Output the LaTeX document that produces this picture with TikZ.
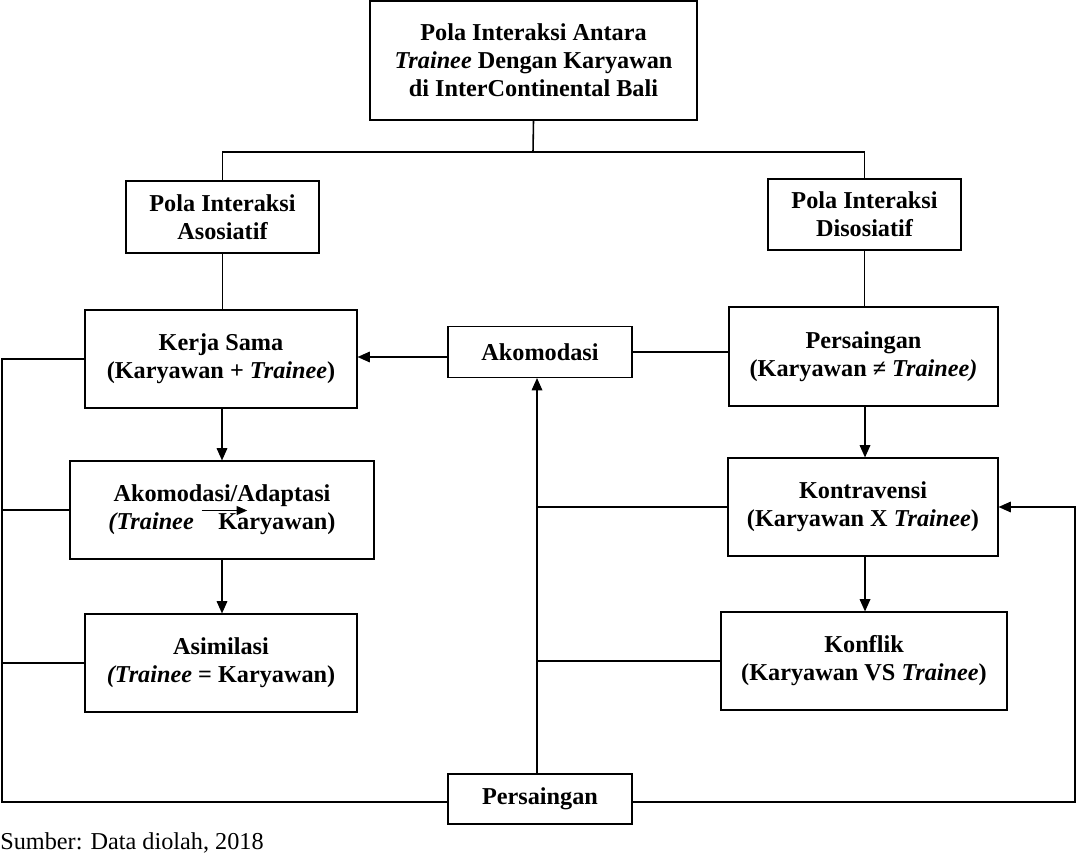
\documentclass[tikz,border=0pt]{standalone}
\usepackage{fontspec}
\setmainfont{Liberation Serif}
\usetikzlibrary{arrows.meta}

\begin{document}
\begin{tikzpicture}[x=0.02cm, y=-0.02cm,
    every node/.style={font=\fontsize{13.8}{16}\selectfont\bfseries, align=center, inner sep=0pt},
    box/.style={draw, line width=0.6pt},
    link/.style={line width=0.9pt},
    arr/.style={link, -{Triangle[length=7pt,width=6pt]}}]
    \useasboundingbox (0,0) rectangle (1077,857);

    % boxes
    \node[box, minimum width=327*0.02cm, minimum height=119*0.02cm] (pola) at (533.5,60.5)
        {Pola Interaksi Antara\\\textit{Trainee} Dengan Karyawan\\di InterContinental Bali};
    \node[box, minimum width=193*0.02cm, minimum height=72*0.02cm] (asos) at (222.5,217)
        {Pola Interaksi\\Asosiatif};
    \node[box, minimum width=193*0.02cm, minimum height=71*0.02cm] (disos) at (864.5,214.5)
        {Pola Interaksi\\Disosiatif};

    \node[box, minimum width=272*0.02cm, minimum height=98*0.02cm] (kerja) at (221,359)
        {Kerja Sama\\(Karyawan + \textit{Trainee})};
    \node[box, minimum width=184*0.02cm, minimum height=51*0.02cm] (akom) at (540,352)
        {Akomodasi};
    \node[box, minimum width=269*0.02cm, minimum height=99*0.02cm] (saing) at (863.5,356.5)
        {Persaingan\\(Karyawan ≠ \textit{Trainee)}};

    \node[box, minimum width=304*0.02cm, minimum height=98*0.02cm] (adapt) at (222,510)
        {Akomodasi/Adaptasi\\\textit{(Trainee}\hspace{4pt}\rlap{\raisebox{8.5pt}[0pt][0pt]{\tikz[x=1pt,y=1pt]\draw[line width=0.9pt,-{Triangle[length=6pt,width=5pt]}] (0,0) -- (26,0);}}\hspace{10pt}Karyawan)};
    \node[box, minimum width=272*0.02cm, minimum height=98*0.02cm] (asim) at (221,663)
        {Asimilasi\\\textit{(Trainee} = Karyawan)};
    \node[box, minimum width=270*0.02cm, minimum height=98*0.02cm] (kontra) at (863,507)
        {Kontravensi\\(Karyawan X \textit{Trainee})};
    \node[box, minimum width=286*0.02cm, minimum height=98*0.02cm] (konf) at (864,661)
        {Konflik\\(Karyawan VS \textit{Trainee})};
    \node[box, minimum width=184*0.02cm, minimum height=50*0.02cm] (saing2) at (540,799)
        {Persaingan};

    \node[font=\fontsize{13.8}{16}\selectfont, anchor=west] (sumber) at (0,843) {Sumber: Data diolah, 2018};

    % tree on top
    \coordinate (top) at (533,152);
    \draw[link] (pola.south) -- (top);
    \draw[link] (asos.north) |- (top);
    \draw[link] (disos.north) |- (top);
    \draw[link] (asos.south) -- (asos.south |- kerja.north);
    \draw[link] (disos.south) -- (disos.south |- saing.north);

    % middle
    \draw[arr] (akom.west |- 0,357) -- (kerja.east |- 0,357);
    \draw[link] (saing.west |- akom.east) -- (akom.east);
    \draw[arr] (kerja.south -| 222,0) -- (adapt.north -| 222,0);
    \draw[arr] (adapt.south) -- (asim.north -| adapt.south);
    \draw[arr] (saing.south -| 865,0) -- (kontra.north -| 865,0);
    \draw[arr] (kontra.south -| 865,0) -- (konf.north -| 865,0);

    % feedback from persaingan
    \coordinate (mid) at (537,0);
    \draw[arr] (saing2.north -| mid) -- (akom.south -| mid);
    \draw[link, line width=0.6pt] (mid |- kontra.west) -- (kontra.west);
    \draw[link, line width=0.6pt] (mid |- konf.west) -- (konf.west);

    % left loop
    \coordinate (lft) at (2,0);
    \draw[link] (kerja.west) -- (lft |- kerja.west) |- (saing2.west |- 0,802);
    \draw[link, line width=0.6pt] (lft |- adapt.west) -- (adapt.west);
    \draw[link, line width=0.6pt] (lft |- asim.west) -- (asim.west);

    % right loop
    \coordinate (rgt) at (1075,0);
    \draw[arr] (saing2.east |- 0,802) -| (rgt |- kontra.east) -- (kontra.east);
\end{tikzpicture}
\end{document}
